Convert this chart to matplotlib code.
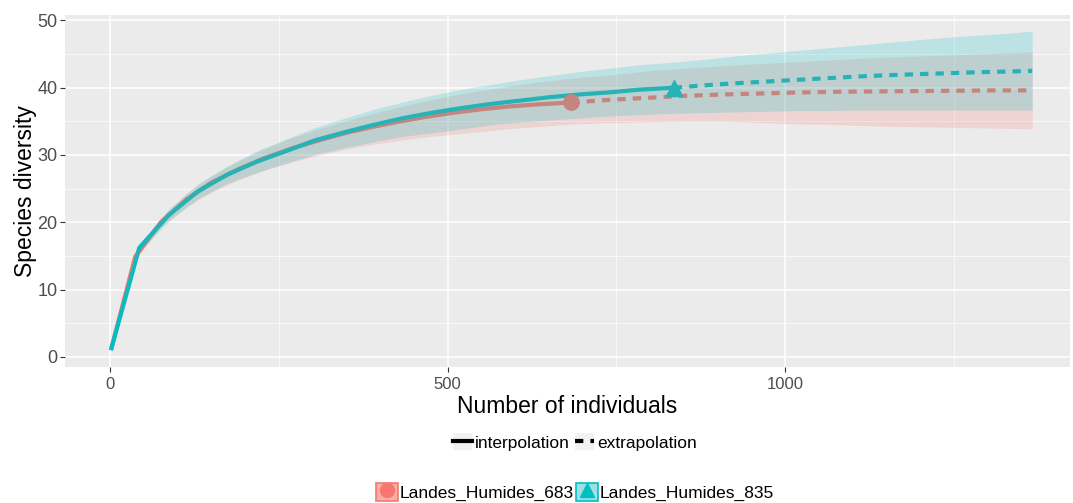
import matplotlib
matplotlib.use('Agg')
import matplotlib.pyplot as plt
from matplotlib import font_manager
from matplotlib.lines import Line2D
from matplotlib.patches import Patch
from matplotlib.ticker import MultipleLocator

plt.rcParams['font.family'] = ['Liberation Sans', 'DejaVu Sans']

# Landes_Humides_683 (rouge)
r_int_x = [1, 37, 75, 113, 150, 190, 230, 270, 310, 350, 390, 430, 470, 510, 550, 590, 630, 683]
r_int_y = [1.0, 14.9, 20.0, 23.4, 25.9, 27.9, 29.6, 31.0, 32.2, 33.3, 34.2, 35.0, 35.7, 36.3, 36.8, 37.2, 37.5, 37.8]
r_int_lo = [1.0, 14.4, 19.3, 22.3, 24.5, 26.3, 27.8, 29.0, 30.0, 30.9, 31.6, 32.2, 32.7, 33.1, 33.5, 33.9, 34.2, 34.6]
r_int_hi = [1.0, 15.4, 20.7, 24.3, 26.9, 29.1, 31.0, 32.6, 33.9, 35.1, 36.2, 37.2, 38.1, 38.9, 39.6, 40.2, 40.8, 41.4]
r_ext_x = [683, 740, 797, 854, 911, 968, 1025, 1082, 1139, 1196, 1253, 1310, 1366]
r_ext_y = [37.8, 38.2, 38.5, 38.8, 39.0, 39.15, 39.3, 39.4, 39.45, 39.5, 39.55, 39.6, 39.6]
r_ext_lo = [34.6, 34.8, 34.9, 35.0, 35.0, 34.8, 34.6, 34.5, 34.3, 34.2, 34.1, 34.0, 33.9]
r_ext_hi = [41.4, 41.9, 42.5, 42.9, 43.3, 43.6, 43.9, 44.2, 44.5, 44.7, 44.9, 45.1, 45.3]

# Landes_Humides_835 (bleu)
b_int_x = [1, 43, 87, 130, 174, 217, 261, 304, 348, 391, 435, 478, 522, 565, 609, 652, 696, 739, 783, 835]
b_int_y = [1.0, 16.2, 21.1, 24.6, 27.1, 29.0, 30.6, 32.2, 33.4, 34.5, 35.5, 36.3, 37.0, 37.6, 38.1, 38.6, 39.0, 39.3, 39.7, 40.0]
b_int_lo = [1.0, 15.6, 20.2, 23.5, 25.8, 27.4, 28.8, 30.1, 31.1, 32.0, 32.8, 33.3, 33.9, 34.5, 34.9, 35.2, 35.5, 35.8, 36.0, 36.2]
b_int_hi = [1.0, 16.8, 22.0, 25.7, 28.4, 30.6, 32.4, 34.1, 35.5, 36.8, 37.9, 38.9, 39.8, 40.5, 41.2, 41.8, 42.4, 42.9, 43.4, 43.8]
b_ext_x = [835, 880, 925, 970, 1015, 1060, 1105, 1150, 1195, 1240, 1285, 1330, 1366]
b_ext_y = [40.0, 40.35, 40.65, 40.9, 41.15, 41.4, 41.65, 41.85, 42.0, 42.15, 42.3, 42.4, 42.5]
b_ext_lo = [36.2, 36.3, 36.4, 36.5, 36.6, 36.6, 36.7, 36.7, 36.7, 36.7, 36.7, 36.7, 36.7]
b_ext_hi = [43.8, 44.2, 44.7, 45.1, 45.5, 45.9, 46.3, 46.7, 47.1, 47.5, 47.8, 48.1, 48.4]

sites = ['Landes_Humides_683', 'Landes_Humides_835']
red = '#F8766D'
teal = '#00BFC4'

fig = plt.figure(figsize=(10.73, 5.03), dpi=100)
ax = fig.add_axes([65 / 1073, 1 - 367 / 503, 1005 / 1073, 352 / 503])
ax.set_facecolor('#EBEBEB')
for s in ax.spines.values():
    s.set_visible(False)

ax.xaxis.set_major_locator(MultipleLocator(500))
ax.xaxis.set_minor_locator(MultipleLocator(250))
ax.yaxis.set_major_locator(MultipleLocator(10))
ax.yaxis.set_minor_locator(MultipleLocator(5))
ax.grid(which='major', color='white', lw=1.1)
ax.grid(which='minor', color='white', lw=0.5)
ax.set_axisbelow(True)

# courbes
for xi, yi, xe, ye, c, m in [(r_int_x, r_int_y, r_ext_x, r_ext_y, red, 'o'),
                             (b_int_x, b_int_y, b_ext_x, b_ext_y, teal, '^')]:
    ax.plot(xi, yi, color=c, lw=3, solid_capstyle='butt', zorder=3)
    ax.plot(xe, ye, color=c, lw=3, dashes=(2.0, 1.7), zorder=3)
    ax.plot([xi[-1]], [yi[-1]], marker=m, color=c, ms=11, zorder=4, ls='none')

# intervalles de confiance
ax.fill_between(r_int_x + r_ext_x[1:], r_int_lo + r_ext_lo[1:], r_int_hi + r_ext_hi[1:],
                color=red, alpha=0.2, lw=0, zorder=5)
ax.fill_between(b_int_x + b_ext_x[1:], b_int_lo + b_ext_lo[1:], b_int_hi + b_ext_hi[1:],
                color=teal, alpha=0.2, lw=0, zorder=5)

ax.set_xlim(-67, 1422)
ax.set_ylim(-1.5, 50.8)

narrow = 'Liberation Sans'
try:
    font_manager.findfont('Liberation Sans Narrow', fallback_to_default=False)
    narrow = 'Liberation Sans Narrow'
except Exception:
    pass

ax.tick_params(which='major', length=3.5, color='#333333', labelcolor='#4D4D4D', width=0.8)
ax.tick_params(which='minor', length=0)
ax.tick_params(axis='y', labelsize=13, pad=2)
ax.tick_params(axis='x', labelsize=12, pad=4)
for lab in ax.get_xticklabels():
    lab.set_family(narrow)

ax.set_xlabel('Number of individuals', fontsize=16.5, labelpad=2)
ax.set_ylabel('Species diversity', fontsize=16.5, labelpad=0)

# légendes
h1 = [(Patch(facecolor='#F2F2F2', edgecolor='none'), Line2D([], [], color='black', lw=3)),
      (Patch(facecolor='#F2F2F2', edgecolor='none'), Line2D([], [], color='black', lw=3, dashes=(2.0, 1.7)))]
leg1 = fig.legend(h1, ['interpolation', 'extrapolation'], loc='center', bbox_to_anchor=(575 / 1073, 1 - 442 / 503),
                  ncol=2, frameon=False, fontsize=12.5, handlelength=1.1, handleheight=1.1,
                  handletextpad=0.15, columnspacing=0.3)

h2 = [(Patch(facecolor='#F6AFA9', edgecolor=red, lw=1.2), Line2D([], [], marker='o', color=red, ms=10, ls='none')),
      (Patch(facecolor='#9FE1E3', edgecolor=teal, lw=1.2), Line2D([], [], marker='^', color=teal, ms=10, ls='none'))]
leg2 = fig.legend(h2, sites, loc='center', bbox_to_anchor=(575 / 1073, 1 - 492 / 503),
                  ncol=2, frameon=False, fontsize=12.5, handlelength=1.3, handleheight=1.3,
                  handletextpad=0.1, columnspacing=0.1)

fig.savefig('out.png', dpi=100)
